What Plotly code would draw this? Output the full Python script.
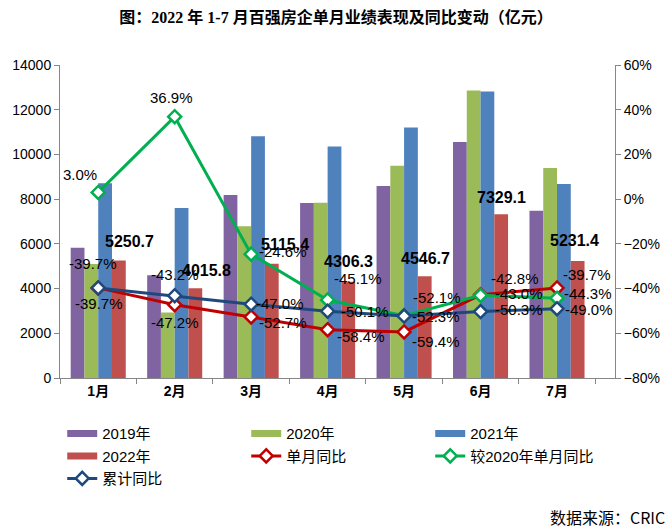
import plotly.graph_objects as go

# ---------------- data ----------------
months = ["1月", "2月", "3月", "4月", "5月", "6月", "7月"]
sales_2019 = [5830, 4600, 8190, 7830, 8590, 10560, 7480]
sales_2020 = [5098, 2933, 6784, 7844, 9492, 12858, 9392]
sales_2021 = [8707, 7606, 10815, 10352, 11199, 12813, 8676]
sales_2022 = [5250.7, 4015.8, 5115.4, 4306.3, 4546.7, 7329.1, 5231.4]
yoy_month = [-39.7, -47.2, -52.7, -58.4, -59.4, -42.8, -39.7]
vs_2020 = [3.0, 36.9, -24.6, -45.1, -52.1, -43.0, -44.3]
yoy_cum = [-39.7, -43.2, -47.0, -50.1, -52.3, -50.3, -49.0]

# ---------------- style ----------------
C2019, C2020, C2021, C2022 = "#8064A2", "#9BBB59", "#4F81BD", "#C0504D"
C_MONTH, C_VS, C_CUM = "#C00000", "#00B050", "#1F497D"
AXIS_GREY = "#868686"
LATIN = "Liberation Sans, Noto Sans CJK SC, sans-serif"

# label offsets in pixels (dx right, dy down)
off_month = [(1, 16), (0, 18), (32, 6), (33, 7), (32, 10), (34, -16), (30, -13)]
off_vs = [(-18, -18), (-3, -19), (32, -3), (30, -21), (33, -18), (38, -2), (31, -5)]
off_cum = [(-5, -24), (0, -21), (29, -1), (37, 0), (32, 0), (38, -2), (32, 1)]
off_bar = [(31, -19), (32, -18), (34, -19), (21, -20), (21, -18), (21, -17), (17, -21)]

fig = go.Figure()

bar_series = [("2019年", sales_2019, C2019), ("2020年", sales_2020, C2020),
              ("2021年", sales_2021, C2021), ("2022年", sales_2022, C2022)]
for name, vals, col in bar_series:
    fig.add_trace(go.Bar(x=months, y=vals, name=name, marker=dict(color=col, line=dict(width=0)),
                         showlegend=False, yaxis="y"))

# legend stand-ins for the bars (wide flat keys like the original)
for name, vals, col in bar_series:
    fig.add_trace(go.Scatter(x=[None], y=[None], mode="lines", name=name,
                             line=dict(color=col, width=7), yaxis="y", hoverinfo="skip"))

line_series = [("单月同比", yoy_month, C_MONTH), ("较2020年单月同比", vs_2020, C_VS),
               ("累计同比", yoy_cum, C_CUM)]
for name, vals, col in line_series:
    fig.add_trace(go.Scatter(x=months, y=vals, name=name, mode="lines+markers", yaxis="y2",
                             line=dict(color=col, width=3),
                             marker=dict(symbol="diamond", size=10, color="white",
                                         line=dict(color=col, width=2.5))))

annotations = []
for vals, offs in [(yoy_month, off_month), (vs_2020, off_vs), (yoy_cum, off_cum)]:
    for m, v, (dx, dy) in zip(months, vals, offs):
        annotations.append(dict(x=m, y=v, xref="x", yref="y2", text=f"{v:.1f}%",
                                showarrow=False, xshift=dx, yshift=-dy,
                                font=dict(family=LATIN, size=15, color="#000000")))
for m, v, (dx, dy) in zip(months, sales_2022, off_bar):
    annotations.append(dict(x=m, y=v, xref="x", yref="y", text=f"<b>{v:.1f}</b>",
                            showarrow=False, xshift=dx, yshift=-dy,
                            font=dict(family=LATIN, size=16, color="#000000")))

annotations.append(dict(x=1.094, y=-0.443, xref="paper", yref="paper", xanchor="right",
                        yanchor="middle", showarrow=False, text="数据来源：CRIC",
                        font=dict(family="Noto Sans CJK SC", size=16, color="#000000")))

fig.update_layout(
    width=672, height=531,
    margin=dict(l=57, r=52, t=65, b=153),
    paper_bgcolor="white", plot_bgcolor="white",
    barmode="group", bargap=0.28, bargroupgap=0,
    title=dict(text="<b>图：2022 年 1-7 月百强房企单月业绩表现及同比变动（亿元）</b>",
               x=0.5, xref="container", y=1 - 17 / 531, yref="container", yanchor="middle",
               xanchor="center",
               font=dict(family="Liberation Serif, Noto Sans CJK SC, serif", size=16, color="#000000")),
    xaxis=dict(type="category", showline=True, linecolor=AXIS_GREY, linewidth=1,
               ticks="outside", tickson="boundaries", ticklen=5, tickcolor=AXIS_GREY,
               showgrid=False, zeroline=False,
               tickfont=dict(family=LATIN, size=14, color="#000000", weight="bold")),
    yaxis=dict(range=[0, 14000], dtick=2000, tickformat="d", showline=True, linecolor=AXIS_GREY,
               ticks="outside", ticklen=5, tickcolor=AXIS_GREY, showgrid=False, zeroline=False,
               tickfont=dict(family=LATIN, size=14, color="#000000")),
    yaxis2=dict(range=[-80, 60], dtick=20, ticksuffix="%", overlaying="y", side="right",
                showline=True, linecolor=AXIS_GREY, ticks="outside", ticklen=5,
                tickcolor=AXIS_GREY, showgrid=False, zeroline=False,
                tickfont=dict(family=LATIN, size=14, color="#000000")),
    legend=dict(orientation="h", x=0.004, xanchor="left", y=-0.125, yanchor="top",
                entrywidth=139, entrywidthmode="pixels", itemwidth=30,
                font=dict(family=LATIN, size=15, color="#000000"),
                bgcolor="rgba(0,0,0,0)", traceorder="normal"),
    annotations=annotations,
    showlegend=True,
)

fig.write_html("out.html")
